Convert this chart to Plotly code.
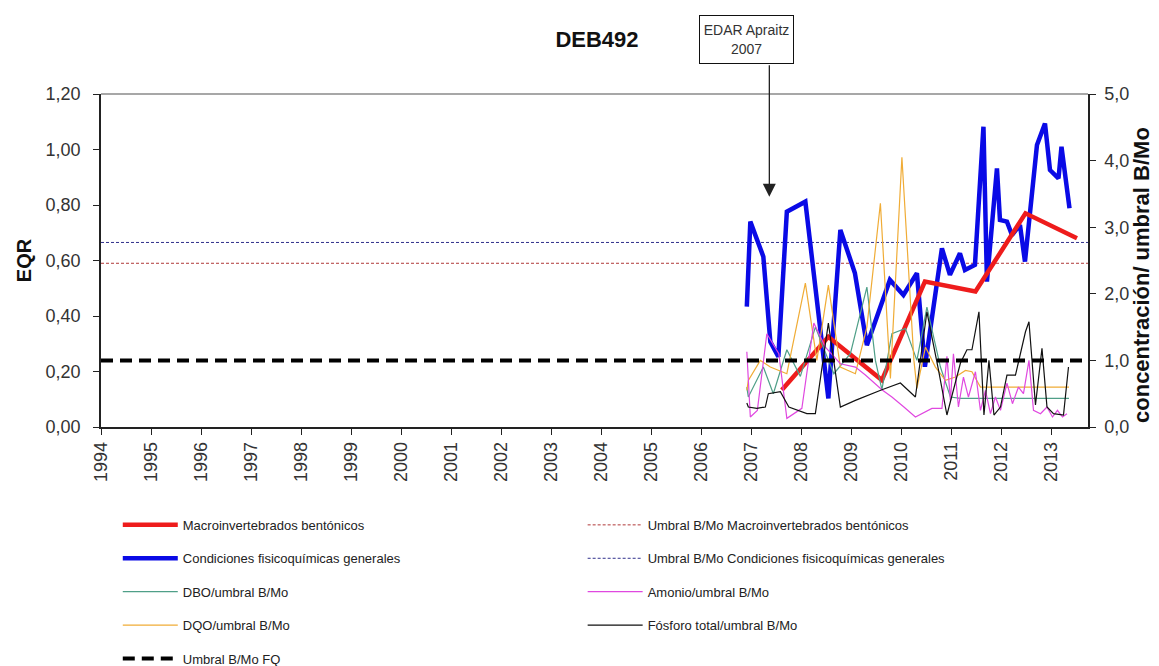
import plotly.graph_objects as go

# --- data ---
years = list(range(1994, 2014))
year_labels = [str(y) for y in years]

# EQR, left axis
macro_x = [2007.61, 2008.54, 2009.61, 2010.47, 2011.48, 2012.48, 2013.51]
macro_y = [0.133, 0.325, 0.169, 0.524, 0.488, 0.770, 0.680]

fq_x = [2006.91, 2006.98, 2007.24, 2007.38, 2007.54, 2007.71, 2008.08, 2008.54, 2008.78,
        2009.07, 2009.31, 2009.77, 2010.04, 2010.31, 2010.47, 2010.81, 2010.97, 2011.17,
        2011.27, 2011.44, 2011.47, 2011.64, 2011.71, 2011.91, 2011.97, 2012.11, 2012.21,
        2012.37, 2012.47, 2012.71, 2012.87, 2012.97, 2013.14, 2013.20, 2013.36]
fq_y = [0.434, 0.740, 0.614, 0.307, 0.253, 0.776, 0.812, 0.103, 0.710,
        0.555, 0.295, 0.530, 0.476, 0.554, 0.217, 0.644, 0.548, 0.626,
        0.566, 0.578, 0.584, 1.082, 0.524, 0.932, 0.746, 0.740, 0.692,
        0.728, 0.596, 1.016, 1.094, 0.926, 0.896, 1.010, 0.788]

umbral_macro = 0.59
umbral_fq_eqr = 0.665

# concentration / threshold, right axis
dbo_x = [2006.91, 2006.94, 2007.24, 2007.44, 2007.71, 2007.98, 2008.28, 2008.65, 2008.98,
         2009.31, 2009.48, 2009.61, 2009.81, 2010.08, 2010.31, 2010.51, 2010.78, 2010.98,
         2011.18, 2011.60, 2012.00, 2012.50, 2013.00, 2013.35]
dbo_y = [0.60, 0.45, 0.90, 0.50, 1.16, 0.76, 1.50, 0.80, 1.10,
         2.10, 1.00, 0.56, 1.40, 1.48, 1.00, 1.80, 0.90, 0.45,
         0.43, 0.43, 0.43, 0.43, 0.43, 0.43]

dqo_x = [2006.91, 2006.94, 2007.18, 2007.38, 2007.71, 2008.08, 2008.31, 2008.54, 2008.78,
         2009.08, 2009.31, 2009.58, 2009.78, 2010.01, 2010.25, 2010.31, 2010.48, 2010.68,
         2010.88, 2011.08, 2011.28, 2011.41, 2011.58, 2012.00, 2012.50, 2013.00, 2013.35]
dqo_y = [0.55, 0.70, 1.00, 0.90, 0.80, 2.16, 1.00, 2.13, 0.90,
         0.80, 1.50, 3.36, 0.73, 4.05, 1.00, 0.58, 1.20, 0.90,
         0.70, 0.75, 0.85, 0.83, 0.60, 0.60, 0.60, 0.60, 0.60]

nh4_x = [2006.91, 2006.98, 2007.12, 2007.31, 2007.55, 2007.71, 2008.01, 2008.25, 2008.48,
         2008.78, 2009.08, 2009.28, 2009.61, 2009.81, 2010.05, 2010.28, 2010.61, 2010.81,
         2010.91, 2010.98, 2011.04, 2011.14, 2011.24, 2011.34, 2011.48, 2011.58, 2011.68,
         2011.78, 2011.88, 2011.98, 2012.11, 2012.22, 2012.34, 2012.44, 2012.55, 2012.64,
         2012.78, 2012.91, 2013.02, 2013.12, 2013.22, 2013.31]
nh4_y = [1.13, 0.15, 0.25, 1.40, 1.10, 0.13, 0.28, 1.56, 1.20,
         0.95, 0.90, 0.78, 0.56, 0.45, 0.30, 0.15, 0.28, 0.28,
         1.06, 0.40, 1.10, 0.30, 0.75, 0.45, 0.83, 0.25, 0.55,
         0.20, 0.45, 0.25, 0.66, 0.35, 0.60, 0.50, 1.00, 0.25,
         0.20, 0.30, 0.15, 0.25, 0.15, 0.20]

pt_x = [2006.91, 2006.94, 2007.11, 2007.28, 2007.34, 2007.58, 2007.75, 2008.11, 2008.28,
        2008.54, 2008.78, 2009.08, 2009.61, 2009.98, 2010.28, 2010.51, 2010.74, 2010.91,
        2011.18, 2011.31, 2011.41, 2011.55, 2011.65, 2011.75, 2011.85, 2011.98, 2012.11,
        2012.28, 2012.48, 2012.55, 2012.68, 2012.81, 2012.91, 2013.04, 2013.24, 2013.34]
pt_y = [0.36, 0.30, 0.28, 0.30, 0.50, 0.53, 0.30, 0.20, 0.20,
        1.56, 0.30, 0.40, 0.56, 0.66, 0.45, 1.73, 0.86, 0.18,
        0.96, 1.16, 1.16, 1.73, 0.18, 1.00, 0.18, 0.30, 0.78,
        0.78, 1.43, 1.58, 0.33, 1.18, 0.30, 0.20, 0.18, 0.90]

umbral_ratio = 1.0
x_span = [1994, 2013.73]

FONT = "Arial, Liberation Sans, sans-serif"

fig = go.Figure()

def thin(x, y, name, color, rank, legend):
    fig.add_trace(go.Scatter(x=x, y=y, name=name, mode="lines", yaxis="y2",
                             line=dict(color=color, width=1.2),
                             legendrank=rank, legend=legend, legendgroup=name))

thin(dbo_x, dbo_y, "DBO/umbral B/Mo", "#4f9f88", 3, "legend")
thin(dqo_x, dqo_y, "DQO/umbral B/Mo", "#f0ac36", 4, "legend")
thin(nh4_x, nh4_y, "Amonio/umbral B/Mo", "#e048e0", 3, "legend2")
thin(pt_x, pt_y, "Fósforo total/umbral B/Mo", "#111111", 4, "legend2")

fig.add_trace(go.Scatter(x=x_span, y=[umbral_macro] * 2, mode="lines",
                         name="Umbral B/Mo Macroinvertebrados bentónicos",
                         line=dict(color="#b03838", width=1, dash="3px,2px"),
                         legendrank=1, legend="legend2", legendgroup="um"))
fig.add_trace(go.Scatter(x=x_span, y=[umbral_fq_eqr] * 2, mode="lines",
                         name="Umbral B/Mo Condiciones fisicoquímicas generales",
                         line=dict(color="#30308c", width=1, dash="3px,2px"),
                         legendrank=2, legend="legend2", legendgroup="uc"))
fig.add_trace(go.Scatter(x=x_span, y=[umbral_ratio] * 2, mode="lines", yaxis="y2",
                         name="Umbral B/Mo FQ",
                         line=dict(color="#000000", width=4, dash="12px,7px"),
                         legendrank=5, legend="legend", legendgroup="ufq"))

fig.add_trace(go.Scatter(x=fq_x, y=fq_y, mode="lines",
                         name="Condiciones fisicoquímicas generales",
                         line=dict(color="#0a0ae6", width=4.5),
                         legendrank=2, legend="legend", legendgroup="fq"))
fig.add_trace(go.Scatter(x=macro_x, y=macro_y, mode="lines",
                         name="Macroinvertebrados bentónicos",
                         line=dict(color="#ee1c1c", width=4.5),
                         legendrank=1, legend="legend", legendgroup="macro"))

# EDAR arrow and label box
fig.add_annotation(x=2007.36, y=0.83, xref="x", yref="y", text="", showarrow=True,
                   ax=0, ay=-133, arrowhead=2, arrowsize=2, arrowwidth=1.3,
                   arrowcolor="#222222")
fig.add_annotation(x=0.654, y=1.164, xref="paper", yref="paper",
                   xanchor="center", yanchor="middle",
                   text="EDAR Apraitz<br>2007", showarrow=False,
                   font=dict(family=FONT, size=14, color="#333333"),
                   bordercolor="#111111", borderwidth=1, borderpad=1,
                   bgcolor="white", width=91, height=45)

# right axis title
fig.add_annotation(x=1.0547, y=0.4565, xref="paper", yref="paper",
                   xanchor="center", yanchor="middle", textangle=-90, showarrow=False,
                   text="<b>concentración/ umbral B/Mo</b>",
                   font=dict(family=FONT, size=22, color="#111111"))

fig.add_shape(type="line", xref="paper", yref="paper", x0=0, x1=1, y0=1, y1=1,
              line=dict(color="#8a8a8a", width=1.5))

legend_common = dict(font=dict(family=FONT, size=13, color="#222222"),
                     traceorder="grouped", tracegroupgap=13.5, itemwidth=55,
                     bgcolor="rgba(0,0,0,0)", xanchor="left", yanchor="top",
                     orientation="v")

tick_font = dict(family=FONT, size=18, color="#333333")

fig.update_layout(
    width=1151, height=658,
    margin=dict(l=93, r=71, t=86, b=239, autoexpand=False),
    paper_bgcolor="white", plot_bgcolor="white",
    separators=",.",
    font=dict(family=FONT, color="#333333"),
    title=dict(text="<b>DEB492</b>", x=0.5025, xref="paper", xanchor="center",
               y=0.9529, yanchor="middle", font=dict(family=FONT, size=22, color="#111111")),
    xaxis=dict(range=x_span, tickvals=years, ticktext=year_labels, tickangle=-90,
               showgrid=False, zeroline=False, showline=True, linecolor="#222222", linewidth=1.5,
               ticks="outside", ticklen=6, tickcolor="#222222", tickfont=tick_font,
               automargin=False),
    yaxis=dict(range=[0, 1.2], dtick=0.2, tickformat=".2f", showgrid=False, zeroline=False,
               showline=True, linecolor="#222222", linewidth=1.5, ticks="outside", ticklen=6,
               tickcolor="#222222", tickfont=tick_font, ticklabelstandoff=9, automargin=False,
               title=dict(text="<b>EQR</b>", standoff=9,
                          font=dict(family=FONT, size=20, color="#111111"))),
    yaxis2=dict(range=[0, 5], dtick=1, tickformat=".1f", overlaying="y", side="right",
                showgrid=False, zeroline=False, showline=True, linecolor="#222222", linewidth=1.5,
                ticks="outside", ticklen=6, tickcolor="#222222", tickfont=tick_font,
                ticklabelstandoff=5, automargin=False),
    legend=dict(x=0.017, y=-0.249, **legend_common),
    legend2=dict(x=0.488, y=-0.249, **legend_common),
)

fig.write_html("out.html")
